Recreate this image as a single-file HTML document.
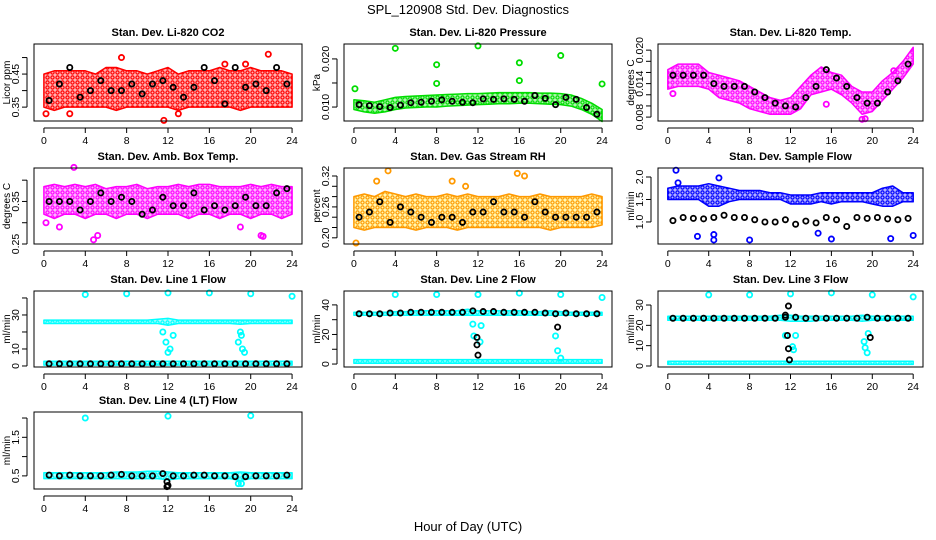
<!DOCTYPE html>
<html><head><meta charset="utf-8"><style>
html,body{margin:0;padding:0;background:#fff}
svg{display:block;font-family:"Liberation Sans",Arial,sans-serif}
</style></head><body>
<svg id="chart" width="936" height="540" viewBox="0 0 936 540">
<defs></defs>
<text x="468" y="14" text-anchor="middle" font-size="13">SPL_120908  Std. Dev. Diagnostics</text>
<text x="468" y="531" text-anchor="middle" font-size="13">Hour of Day (UTC)</text>
</svg>
<script>
const HOURS=[0,1,2,3,4,5,6,7,8,9,10,11,12,13,14,15,16,17,18,19,20,21,22,23,24];
const MEAN_HOURS=[0.5,1.5,2.5,3.5,4.5,5.5,6.5,7.5,8.5,9.5,10.5,11.5,12.5,13.5,14.5,15.5,16.5,17.5,18.5,19.5,20.5,21.5,22.5,23.5];
const X_TICKS=[0,4,8,12,16,20,24];

const co2Lo=[0.35,0.34,0.35,0.35,0.35,0.35,0.35,0.34,0.35,0.35,0.35,0.35,0.35,0.34,0.35,0.35,0.35,0.35,0.35,0.34,0.35,0.35,0.35,0.35,0.35];
const co2Hi=[0.45,0.46,0.46,0.46,0.46,0.45,0.47,0.47,0.46,0.46,0.45,0.46,0.47,0.45,0.46,0.46,0.46,0.47,0.46,0.46,0.47,0.46,0.46,0.46,0.45];
const co2Mean=[0.37,0.42,0.47,0.38,0.40,0.43,0.40,0.40,0.42,0.39,0.42,0.43,0.41,0.38,0.41,0.47,0.43,0.36,0.47,0.41,0.42,0.40,0.47,0.42];
const co2OutX=[7.5,21.7,11.6,19.5,0.2,2.5,13,17.5];
const co2OutY=[0.50,0.51,0.31,0.48,0.33,0.33,0.33,0.48];

const presLo=[0.0095,0.009,0.0087,0.009,0.0095,0.0098,0.0099,0.01,0.01,0.0102,0.0103,0.0104,0.0105,0.0106,0.0107,0.0107,0.0108,0.0108,0.0107,0.0106,0.0105,0.0102,0.0095,0.0085,0.007];
const presHi=[0.0115,0.0113,0.011,0.0115,0.012,0.0122,0.0123,0.0124,0.0125,0.0126,0.0127,0.0128,0.0128,0.0129,0.013,0.013,0.013,0.013,0.0129,0.0129,0.0128,0.0125,0.0118,0.0108,0.0095];
const presMean=[0.0105,0.0103,0.0101,0.0099,0.0104,0.0109,0.011,0.0112,0.0115,0.0112,0.011,0.0109,0.0117,0.0116,0.0117,0.0116,0.0112,0.0124,0.0118,0.0105,0.012,0.0116,0.0099,0.0085];
const presOutX=[0.1,4,8,8,12,16,16,20,24];
const presOutY=[0.0138,0.0222,0.0188,0.0149,0.0227,0.0192,0.0155,0.0207,0.0148];

const tempLo=[0.013,0.0135,0.0135,0.0135,0.013,0.0115,0.011,0.0105,0.0095,0.009,0.0085,0.0085,0.0085,0.0095,0.012,0.0125,0.013,0.012,0.0105,0.0085,0.009,0.011,0.013,0.015,0.0175];
const tempHi=[0.0165,0.0175,0.0175,0.0175,0.016,0.0155,0.015,0.0145,0.0135,0.0125,0.0115,0.011,0.0115,0.0135,0.0155,0.017,0.016,0.0155,0.0135,0.0125,0.0125,0.0145,0.016,0.018,0.0205];
const tempMean=[0.0155,0.0155,0.0155,0.0155,0.014,0.0135,0.0135,0.0135,0.0125,0.0115,0.0105,0.010,0.0098,0.0115,0.0135,0.0165,0.015,0.0135,0.0115,0.0105,0.0105,0.0125,0.0145,0.0175];
const tempOutX=[19,19.3,0.5,15.5,22.1];
const tempOutY=[0.0076,0.0077,0.0122,0.0103,0.0163];

const ambLo=[0.32,0.31,0.32,0.32,0.31,0.32,0.32,0.31,0.32,0.32,0.31,0.32,0.32,0.32,0.31,0.32,0.32,0.31,0.32,0.32,0.31,0.32,0.32,0.31,0.32];
const ambHi=[0.385,0.39,0.385,0.39,0.385,0.39,0.38,0.385,0.385,0.39,0.38,0.385,0.385,0.39,0.385,0.39,0.39,0.385,0.385,0.385,0.39,0.385,0.39,0.385,0.385];
const ambMean=[0.35,0.35,0.35,0.33,0.35,0.37,0.35,0.36,0.35,0.32,0.33,0.36,0.34,0.34,0.37,0.33,0.34,0.33,0.34,0.36,0.34,0.34,0.37,0.38];
const ambOutX=[4.8,5.2,2.9,21,21.2,1.5,19,0.2];
const ambOutY=[0.26,0.27,0.43,0.27,0.268,0.29,0.29,0.3];

const rhLo=[0.22,0.215,0.22,0.22,0.22,0.22,0.215,0.22,0.22,0.22,0.215,0.22,0.22,0.22,0.22,0.22,0.22,0.22,0.22,0.215,0.22,0.22,0.22,0.22,0.225];
const rhHi=[0.28,0.285,0.28,0.29,0.285,0.28,0.285,0.28,0.28,0.285,0.28,0.285,0.28,0.28,0.28,0.285,0.28,0.28,0.285,0.28,0.28,0.28,0.28,0.285,0.28];
const rhMean=[0.24,0.25,0.27,0.23,0.26,0.25,0.24,0.23,0.24,0.24,0.23,0.25,0.25,0.27,0.25,0.25,0.24,0.27,0.25,0.24,0.24,0.24,0.24,0.25];
const rhOutX=[15.8,0.2,3.3,9.5,16.5,2.2,10.8];
const rhOutY=[0.325,0.19,0.33,0.31,0.32,0.31,0.30];

const flowLo=[1.5,1.5,1.5,1.5,1.35,1.35,1.45,1.5,1.5,1.5,1.5,1.5,1.4,1.4,1.4,1.45,1.4,1.45,1.45,1.45,1.4,1.35,1.35,1.45,1.45];
const flowHi=[1.75,1.8,1.8,1.8,1.85,1.8,1.75,1.7,1.7,1.7,1.65,1.65,1.6,1.6,1.6,1.65,1.65,1.65,1.65,1.65,1.65,1.75,1.8,1.65,1.65];
const flowMean=[1.03,1.1,1.08,1.07,1.1,1.15,1.1,1.1,1.05,1.0,1.0,1.05,0.95,1.02,0.98,1.1,1.05,0.9,1.1,1.08,1.1,1.07,1.05,1.08];
const flowOutX=[0.8,2.9,4.5,4.5,8,16,21.8,24,5,1,14.7];
const flowOutY=[2.15,0.68,0.6,0.72,0.6,0.62,0.63,0.7,1.98,1.87,0.75];

const l1UpLo=[25,25,25,25,25,25,25,25,25,25,25,25,24,25,25,25,25,25,25,24.5,25,25,25,25,25];
const l1UpHi=[27,27,27,27,27,27,27,27,27,27,27,27.5,28,27,27,27,27,27,27,27,27,27,27,27,27];
const l1LowLo=[0.5,0.5,0.5,0.5,0.5,0.5,0.5,0.5,0.5,0.5,0.5,0.5,0.5,0.5,0.5,0.5,0.5,0.5,0.5,0.5,0.5,0.5,0.5,0.5,0.5];
const l1LowHi=[2.8,2.8,2.8,2.8,2.8,2.8,2.8,2.8,2.8,2.8,2.8,2.8,2.8,2.8,2.8,2.8,2.8,2.8,2.8,2.8,2.8,2.8,2.8,2.8,2.8];
const l1Mean=[1.3,1.3,1.3,1.3,1.3,1.3,1.3,1.3,1.3,1.3,1.3,1.3,1.3,1.3,1.3,1.3,1.3,1.3,1.3,1.3,1.3,1.3,1.3,1.3];
const l1OutX=[4,8,12,16,20,24,12,12.2,11.8,11.5,12.5,19,19.2,19.4,18.8,19.1];
const l1OutY=[42,42.5,43,43,42.5,41,8,10,14,20,18,20,10,8,14,18];

const l2UpLo=[33,33,33,33,33,33,33,33,33,33,33,33,33,33,33,33,33,33,33,33,33,33,33,33,33];
const l2UpHi=[35,35,35,35,35.5,35.5,36,36,36,36,36,37,36,36,36,36,36,35.5,35.5,36,35.5,35,35,35,35];
const l2LowLo=[0.5,0.5,0.5,0.5,0.5,0.5,0.5,0.5,0.5,0.5,0.5,0.5,0.5,0.5,0.5,0.5,0.5,0.5,0.5,0.5,0.5,0.5,0.5,0.5,0.5];
const l2LowHi=[3,3,3,3,3,3,3,3,3,3,3,3,3,3,3,3,3,3,3,3,3,3,3,3,3];
const l2Mean=[34,34,34,34.5,34.5,35,35,35,35,35,35,36,35.5,35.5,35,35,35,35,34.5,34,34.5,34,34,34];
const l2OutX=[4,8,12,16,20,24,11.5,12.3,11.6,12.2,19.5,19.7,20,11.9,11.9,12,19.7];
const l2OutY=[47,47,47,48,47,45,27,26,19,15,19,9,4,18,13,6,25];
const l2OutBlack=[0,0,0,0,0,0,0,0,0,0,0,0,0,1,1,1,1];

const l3UpLo=[22.5,22.5,22.5,22.5,22.5,22.5,22.5,22.5,22.5,22.5,22.5,22.5,22,22,22,22.5,22.5,22.5,22.5,22,22.5,22.5,22.5,22.5,22.5];
const l3UpHi=[24.5,24.5,24.5,24.5,24.5,24.5,24.5,24.5,24.5,24.5,24.5,25,25,24.5,24.5,24.5,24.5,24.5,24.5,25,24.5,24.5,24.5,24.5,24.5];
const l3LowLo=[0.8,0.8,0.8,0.8,0.8,0.8,0.8,0.8,0.8,0.8,0.8,0.8,0.8,0.8,0.8,0.8,0.8,0.8,0.8,0.8,0.8,0.8,0.8,0.8,0.8];
const l3LowHi=[2.3,2.3,2.3,2.3,2.3,2.3,2.3,2.3,2.3,2.3,2.3,2.3,2.3,2.3,2.3,2.3,2.3,2.3,2.3,2.3,2.3,2.3,2.3,2.3,2.3];
const l3Mean=[23.5,23.5,23.5,23.5,23.5,23.5,23.5,23.5,23.5,23.5,23.5,24,24,23.5,23.5,23.5,23.5,23.5,23.5,24,23.5,23.5,23.5,23.5];
const l3OutX=[4,8,12,16,20,24,11.5,12.2,12.3,12.5,19.2,19.3,19.5,19.6,11.7,11.8,11.9,11.8,11.5,19.8];
const l3OutY=[35,35,35.5,36,35,34,15,9.5,8,15,12,9,6.5,16,15,8.5,3,29.5,25,14];
const l3OutBlack=[0,0,0,0,0,0,0,0,0,0,0,0,0,0,1,1,1,1,1,1];

const l4Lo=[0.43,0.43,0.43,0.43,0.43,0.43,0.43,0.43,0.43,0.43,0.43,0.43,0.4,0.43,0.43,0.43,0.43,0.43,0.43,0.38,0.43,0.43,0.43,0.43,0.43];
const l4Hi=[0.58,0.58,0.58,0.58,0.58,0.58,0.58,0.6,0.6,0.6,0.62,0.62,0.6,0.58,0.58,0.58,0.58,0.58,0.58,0.6,0.58,0.58,0.58,0.58,0.58];
const l4Mean=[0.52,0.5,0.52,0.5,0.5,0.5,0.52,0.54,0.5,0.5,0.5,0.56,0.5,0.5,0.52,0.52,0.5,0.5,0.48,0.48,0.5,0.5,0.5,0.52];
const l4OutX=[4,12,20,18.8,19.1,11.9,12,11.9];
const l4OutY=[2.0,2.05,2.06,0.3,0.3,0.35,0.25,0.22];
const l4OutBlack=[0,0,0,0,0,1,1,1];

const NS='http://www.w3.org/2000/svg';
const svg=document.getElementById('chart');
const defs=svg.querySelector('defs');
function mk(tag,attrs,parent){const e=document.createElementNS(NS,tag);for(const k in attrs)e.setAttribute(k,attrs[k]);(parent||svg).appendChild(e);return e;}

const COLS=[[34,302],[344,612],[658,923]];
const ROWS=[[44,121],[168,244],[291,367],[412,489]];

let patId=0;
function pattern(color,bg){
  const id='pat'+(patId++);
  const p=mk('pattern',{id:id,width:5,height:5,patternUnits:'userSpaceOnUse'},defs);
  mk('rect',{x:0,y:0,width:5,height:5,fill:bg,opacity:0.3},p);
  mk('circle',{cx:2.5,cy:2.5,r:1.6,fill:'none',stroke:color,'stroke-width':1.2},p);
  return 'url(#'+id+')';
}

function panel(cfg){
  const [x0,x1]=COLS[cfg.col],[y0,y1]=ROWS[cfg.row];
  const pad=(x1-x0)*0.04/1.08;
  const xs=h=>x0+pad+(h/24)*(x1-x0-2*pad);
  const ys=v=>y1-(v-cfg.ymin)/(cfg.ymax-cfg.ymin)*(y1-y0);
  const g=mk('g',{});
  
  
  const t=mk('text',{x:(x0+x1)/2,y:y0-8,'text-anchor':'middle','font-size':11,'font-weight':'bold'},g);
  t.textContent=cfg.title;
  
  
  const fill=pattern(cfg.color,cfg.bg||cfg.color);
  cfg.bands.forEach(b=>{
    let d='';
    HOURS.forEach((h,i)=>{d+=(i?'L':'M')+xs(h).toFixed(1)+' '+ys(b[1][i]).toFixed(1);});
    for(let i=HOURS.length-1;i>=0;i--)d+='L'+xs(HOURS[i]).toFixed(1)+' '+ys(b[0][i]).toFixed(1);
    const p=mk('path',{d:d+'Z',fill:fill,stroke:cfg.color,'stroke-width':1.5,'stroke-linejoin':'round'},g);
    
    
  });
  cfg.outX.forEach((xv,i)=>{
    const blk=cfg.outBlack&&cfg.outBlack[i];
    const c=mk('circle',{cx:xs(xv),cy:ys(cfg.outY[i]),r:2.6,fill:'none',stroke:blk?'#000':cfg.color,'stroke-width':1.8},g);
    
    
  });
  cfg.mean.forEach((v,i)=>{
    const c=mk('circle',{cx:xs(MEAN_HOURS[i]),cy:ys(v),r:2.6,fill:'none',stroke:'#000','stroke-width':1.8},g);
    
    
  });
  const box=mk('rect',{x:x0,y:y0,width:x1-x0,height:y1-y0,fill:'none',stroke:'#000','stroke-width':1},g);
  
  
  mk('line',{x1:xs(0),x2:xs(24),y1:y1+7,y2:y1+7,stroke:'#000'},g);
  X_TICKS.forEach(h=>{
    mk('line',{x1:xs(h),x2:xs(h),y1:y1+7,y2:y1+12,stroke:'#000'},g);
    const tl=mk('text',{x:xs(h),y:y1+23,'text-anchor':'middle','font-size':10.5},g);
    tl.textContent=h;
    
    
  });
  const ya=x0-7;
  mk('line',{x1:ya,x2:ya,y1:ys(cfg.yticks[0]),y2:ys(cfg.yticks[cfg.yticks.length-1]),stroke:'#000'},g);
  cfg.yticks.forEach(v=>{
    mk('line',{x1:ya-5,x2:ya,y1:ys(v),y2:ys(v),stroke:'#000'},g);
  });
  cfg.ylabels.forEach((lab,i)=>{
    const tl=mk('text',{x:0,y:0,'text-anchor':'middle','font-size':10.5,transform:`translate(${ya-8},${ys(cfg.ylabelVals[i])}) rotate(-90)`},g);
    tl.textContent=lab;
    
    
  });
  const yt=mk('text',{x:0,y:0,'text-anchor':'middle','font-size':10,transform:`translate(${x0-24},${(y0+y1)/2}) rotate(-90)`},g);
  yt.textContent=cfg.ytitle;
  
  
}

panel({name:'panel-co2',col:0,row:0,title:'Stan. Dev. Li-820 CO2',ytitle:'Licor ppm',color:'#ff0000',ymin:0.308,ymax:0.541,yticks:[0.35,0.40,0.45,0.50],ylabels:['0.35','0.45'],ylabelVals:[0.35,0.45],bands:[[co2Lo,co2Hi]],mean:co2Mean,outX:co2OutX,outY:co2OutY});
panel({name:'panel-pressure',col:1,row:0,title:'Stan. Dev. Li-820 Pressure',ytitle:'kPa',color:'#00dd00',ymin:0.0071,ymax:0.0231,yticks:[0.010,0.015,0.020],ylabels:['0.010','0.020'],ylabelVals:[0.010,0.020],bands:[[presLo,presHi]],mean:presMean,outX:presOutX,outY:presOutY});
panel({name:'panel-temp',col:2,row:0,title:'Stan. Dev. Li-820 Temp.',ytitle:'degrees C',color:'#ff00ff',ymin:0.0073,ymax:0.0211,yticks:[0.008,0.010,0.012,0.014,0.016,0.018,0.020],ylabels:['0.008','0.014','0.020'],ylabelVals:[0.008,0.014,0.020],bands:[[tempLo,tempHi]],mean:tempMean,outX:tempOutX,outY:tempOutY});
panel({name:'panel-amb-box-temp',col:0,row:1,title:'Stan. Dev. Amb. Box Temp.',ytitle:'degrees C',color:'#ff00ff',ymin:0.25,ymax:0.4286,yticks:[0.25,0.30,0.35,0.40],ylabels:['0.25','0.35'],ylabelVals:[0.25,0.35],bands:[[ambLo,ambHi]],mean:ambMean,outX:ambOutX,outY:ambOutY});
panel({name:'panel-gas-rh',col:1,row:1,title:'Stan. Dev. Gas Stream RH',ytitle:'percent',color:'#ff9900',bg:'#ffee00',ymin:0.188,ymax:0.3355,yticks:[0.20,0.22,0.24,0.26,0.28,0.30,0.32],ylabels:['0.20','0.26','0.32'],ylabelVals:[0.20,0.26,0.32],bands:[[rhLo,rhHi]],mean:rhMean,outX:rhOutX,outY:rhOutY});
panel({name:'panel-sample-flow',col:2,row:1,title:'Stan. Dev. Sample Flow',ytitle:'ml/min',color:'#0000ff',ymin:0.51,ymax:2.2,yticks:[1.0,1.5,2.0],ylabels:['1.0','1.5','2.0'],ylabelVals:[1.0,1.5,2.0],bands:[[flowLo,flowHi]],mean:flowMean,outX:flowOutX,outY:flowOutY});
panel({name:'panel-line1-flow',col:0,row:2,title:'Stan. Dev. Line 1 Flow',ytitle:'ml/min',color:'#00ffff',ymin:-0.6,ymax:44.1,yticks:[0,10,20,30,40],ylabels:['0','10','30'],ylabelVals:[0,10,30],bands:[[l1UpLo,l1UpHi],[l1LowLo,l1LowHi]],mean:l1Mean,outX:l1OutX,outY:l1OutY});
panel({name:'panel-line2-flow',col:1,row:2,title:'Stan. Dev. Line 2 Flow',ytitle:'ml/min',color:'#00ffff',ymin:-2,ymax:49.4,yticks:[0,10,20,30,40],ylabels:['0','20','40'],ylabelVals:[0,20,40],bands:[[l2UpLo,l2UpHi],[l2LowLo,l2LowHi]],mean:l2Mean,outX:l2OutX,outY:l2OutY,outBlack:l2OutBlack});
panel({name:'panel-line3-flow',col:2,row:2,title:'Stan. Dev. Line 3 Flow',ytitle:'ml/min',color:'#00ffff',ymin:-0.5,ymax:36.9,yticks:[0,10,20,30],ylabels:['0','10','20','30'],ylabelVals:[0,10,20,30],bands:[[l3UpLo,l3UpHi],[l3LowLo,l3LowHi]],mean:l3Mean,outX:l3OutX,outY:l3OutY,outBlack:l3OutBlack});
panel({name:'panel-line4-flow',col:0,row:3,title:'Stan. Dev. Line 4 (LT) Flow',ytitle:'ml/min',color:'#00ffff',ymin:0.16,ymax:2.156,yticks:[0.5,1.0,1.5,2.0],ylabels:['0.5','1.5'],ylabelVals:[0.5,1.5],bands:[[l4Lo,l4Hi]],mean:l4Mean,outX:l4OutX,outY:l4OutY,outBlack:l4OutBlack});
</script>
</body></html>
